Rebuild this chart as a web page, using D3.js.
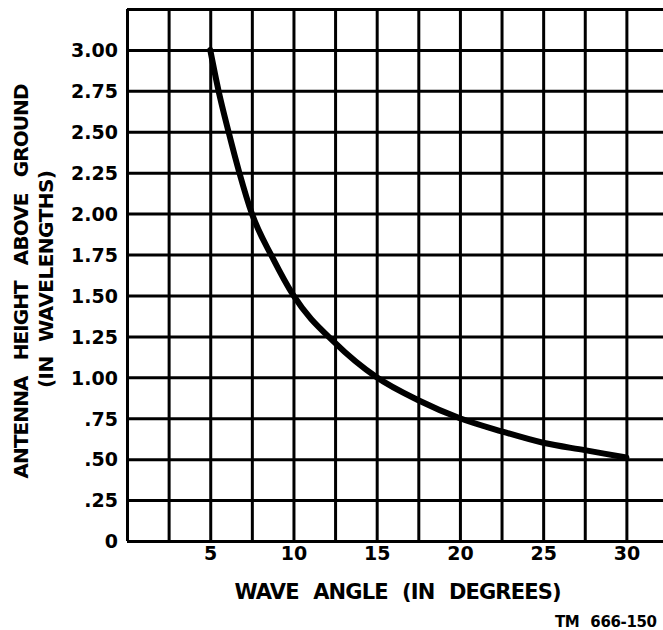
<!DOCTYPE html>
<html>
<head>
<meta charset="utf-8">
<script src="https://cdn.jsdelivr.net/npm/d3@7"></script>
<style>
  html, body { margin: 0; padding: 0; background: #fff; }
  svg { display: block; }
  text { font-family: "DejaVu Sans", "Liberation Sans", sans-serif; font-weight: bold; fill: #000; }
</style>
</head>
<body>
<svg id="chart" width="663" height="630"></svg>
<script>
// Wave angle (degrees) vs. antenna height above ground (wavelengths)
const waveAngle = [5, 5.5, 6.1, 6.75, 7.5, 8.75, 10, 12.5, 15, 17.5, 20, 22.5, 25, 27.5, 30];
const antennaHeight = [3.00, 2.75, 2.50, 2.25, 2.00, 1.73, 1.50, 1.21, 1.00, 0.86, 0.75, 0.67, 0.60, 0.555, 0.51];

// Grid divisions and labelled ticks
const xGridValues = [0, 2.5, 5, 7.5, 10, 12.5, 15, 17.5, 20, 22.5, 25, 27.5, 30, 32.5];
const xTickValues = [5, 10, 15, 20, 25, 30];
const xTickLabels = ["5", "10", "15", "20", "25", "30"];
const yGridValues = [0, 0.25, 0.5, 0.75, 1, 1.25, 1.5, 1.75, 2, 2.25, 2.5, 2.75, 3, 3.25];
const yTickValues = [0, 0.25, 0.5, 0.75, 1, 1.25, 1.5, 1.75, 2, 2.25, 2.5, 2.75, 3];
const yTickLabels = ["0", ".25", ".50", ".75", "1.00", "1.25", "1.50", "1.75", "2.00", "2.25", "2.50", "2.75", "3.00"];

const xTitle = "WAVE ANGLE (IN DEGREES)";
const yTitle1 = "ANTENNA HEIGHT ABOVE GROUND";
const yTitle2 = "(IN WAVELENGTHS)";
const figureId = "TM 666-150";

const svg = d3.select("#chart");
const plotLeft = 127, plotRight = 668, plotTop = 9, plotBottom = 541;

const x = d3.scaleLinear().domain([0, 32.5]).range([plotLeft, plotRight]);
const y = d3.scaleLinear().domain([0, 3.25]).range([plotBottom, plotTop]);

// Vertical grid lines
const gx = svg.append("g")
  .attr("transform", `translate(0,${plotBottom})`)
  .call(d3.axisBottom(x).tickValues(xGridValues).tickSize(-(plotBottom - plotTop)).tickFormat(""));
gx.select(".domain").remove();
gx.selectAll(".tick line").attr("stroke", "#000").attr("stroke-width", 3);

// Horizontal grid lines
const gy = svg.append("g")
  .attr("transform", `translate(${plotLeft},0)`)
  .call(d3.axisLeft(y).tickValues(yGridValues).tickSize(-(plotRight - plotLeft)).tickFormat(""));
gy.select(".domain").remove();
gy.selectAll(".tick line").attr("stroke", "#000").attr("stroke-width", 3);

// X tick labels
const xl = svg.append("g")
  .attr("transform", `translate(0,${plotBottom})`)
  .call(d3.axisBottom(x).tickValues(xTickValues).tickSize(0).tickPadding(6)
    .tickFormat((d, i) => xTickLabels[i]));
xl.select(".domain").remove();
xl.selectAll("text").attr("font-size", 19).attr("font-family", null);

// Y tick labels
const yl = svg.append("g")
  .attr("transform", `translate(${plotLeft},0)`)
  .call(d3.axisLeft(y).tickValues(yTickValues).tickSize(0).tickPadding(9)
    .tickFormat((d, i) => yTickLabels[i]));
yl.select(".domain").remove();
yl.selectAll("text").attr("font-size", 19).attr("font-family", null).attr("dy", "0.36em");

// Curve
const line = d3.line()
  .x((d, i) => x(waveAngle[i]))
  .y(d => y(d))
  .curve(d3.curveMonotoneX);
svg.append("path")
  .datum(antennaHeight)
  .attr("d", line)
  .attr("fill", "none")
  .attr("stroke", "#000")
  .attr("stroke-width", 6)
  .attr("stroke-linecap", "round")
  .attr("stroke-linejoin", "round");

// Axis titles (wide word gaps, as in stencil lettering)
svg.append("text")
  .attr("transform", "translate(28,281) rotate(-90)")
  .attr("text-anchor", "middle")
  .attr("font-size", 20)
  .attr("word-spacing", 10)
  .attr("textLength", 395).attr("lengthAdjust", "spacing")
  .text(yTitle1);
svg.append("text")
  .attr("transform", "translate(53,279) rotate(-90)")
  .attr("text-anchor", "middle")
  .attr("font-size", 20)
  .attr("word-spacing", 8)
  .attr("textLength", 218).attr("lengthAdjust", "spacing")
  .text(yTitle2);
svg.append("text")
  .attr("x", 398).attr("y", 599)
  .attr("text-anchor", "middle")
  .attr("font-size", 21)
  .attr("word-spacing", 8)
  .attr("textLength", 327).attr("lengthAdjust", "spacing")
  .text(xTitle);
svg.append("text")
  .attr("x", 606).attr("y", 627)
  .attr("text-anchor", "middle")
  .attr("font-size", 15)
  .attr("word-spacing", 6)
  .attr("textLength", 102).attr("lengthAdjust", "spacing")
  .text(figureId);
</script>
</body>
</html>
